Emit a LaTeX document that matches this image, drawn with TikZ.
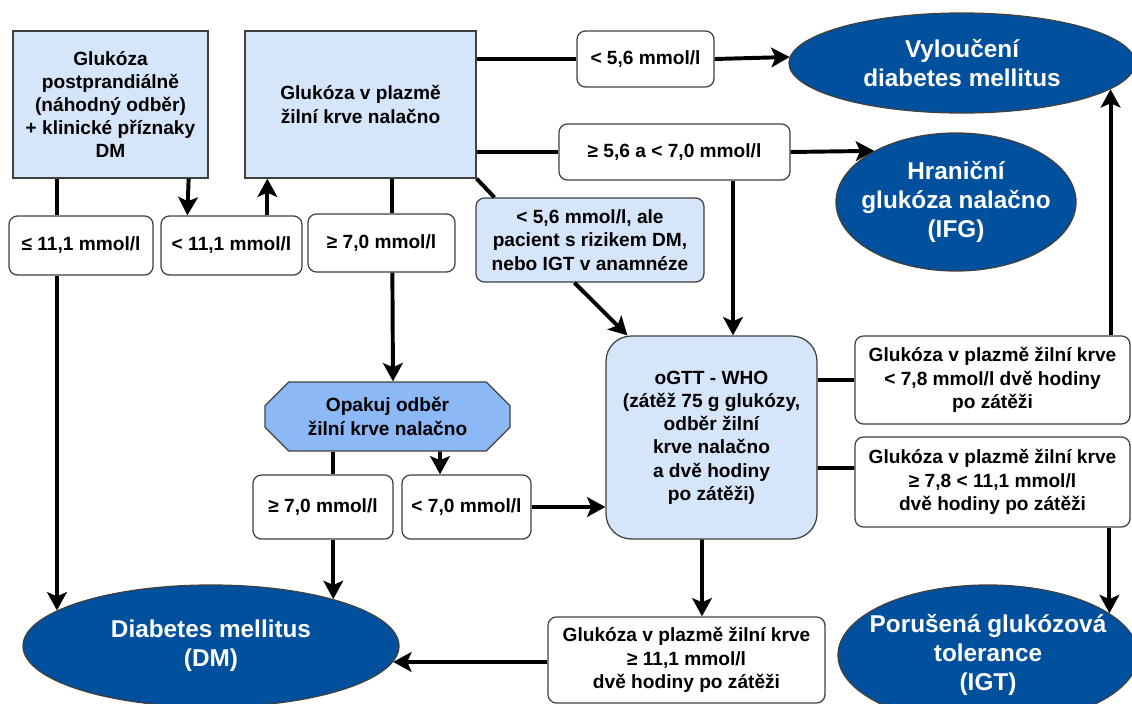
\documentclass[tikz,border=0pt]{standalone}
\usepackage{fontspec}
\setmainfont{Liberation Sans}
\usetikzlibrary{arrows.meta,shapes.geometric,shapes.misc,calc}

\definecolor{paleblue}{RGB}{214,230,250}
\definecolor{midblue}{RGB}{140,184,245}
\definecolor{darkblue}{RGB}{0,80,158}
\definecolor{edgegray}{RGB}{64,64,64}

\tikzset{
  wh/.style 2 args={minimum width=#1*0.025cm, minimum height=#2*0.025cm},
  txt/.style={font=\fontsize{13.6}{16.5}\selectfont\bfseries, align=center, inner sep=0pt, draw=edgegray, line width=0.9pt},
  inbox/.style={txt, rectangle, fill=paleblue},
  cond/.style={txt, rectangle, rounded corners=6pt, fill=white},
  oval/.style={ellipse, fill=darkblue, draw=edgegray, line width=0.9pt, text=white, inner xsep=-0.75cm, inner ysep=0pt, font=\fontsize{17.3}{20.5}\selectfont\bfseries, align=center},
  ln/.style={line width=2.8pt},
  arr/.style={ln, -{Stealth[length=13pt,width=14pt,inset=3pt]}},
}

\begin{document}
\begin{tikzpicture}[x=0.025cm, y=-0.025cm]

    \useasboundingbox (0,0) rectangle (1132,704);
    \clip (0,0) rectangle (1132,704);

    % nodes
    \node[inbox, wh={195}{147}] (postp) at (110.5,104.5) {Glukóza\\postprandiálně\\(náhodný odběr)\\+ klinické příznaky\\DM};
    \node[inbox, wh={231}{147}] (fast) at (360.5,104.5) {Glukóza v plazmě\\žilní krve nalačno};
    \node[cond, wh={144}{59}] (le111) at (81,245.5) {≤ 11,1 mmol/l};
    \node[cond, wh={141}{59}] (lt111) at (231.5,245.5) {< 11,1 mmol/l};
    \node[cond, wh={147}{58}] (ge70) at (381.5,243) {≥ 7,0 mmol/l};
    \node[cond, wh={137}{56}] (lt56) at (645.5,59) {< 5,6 mmol/l};
    \node[cond, wh={231}{56}] (mid) at (674.5,152) {≥ 5,6 a < 7,0 mmol/l};
    \node[inbox, rounded corners=6pt, wh={228}{84}] (risk) at (590,240) {< 5,6 mmol/l, ale\\pacient s rizikem DM,\\nebo IGT v anamnéze};
    \node[oval, wh={346}{100}] (excl) at (962,63) {Vyloučení\\diabetes mellitus};
    \node[oval, wh={240}{138}] (ifg) at (956,202) {Hraniční\\glukóza nalačno\\(IFG)};
    \node[inbox, rounded corners=18pt, wh={211}{203}] (ogtt) at (711.5,437.5) {oGTT - WHO\\(zátěž 75 g glukózy,\\odběr žilní\\krve nalačno\\a dvě hodiny\\po zátěži)};
    \node[cond, wh={275}{88}] (lt78) at (992.5,380) {Glukóza v plazmě žilní krve\\< 7,8 mmol/l dvě hodiny\\po zátěži};
    \node[cond, wh={275}{90}] (ge78) at (992.5,482) {Glukóza v plazmě žilní krve\\≥ 7,8 < 11,1 mmol/l\\dvě hodiny po zátěži};
    \node[txt, chamfered rectangle, chamfered rectangle xsep=0.5cm, fill=midblue, wh={245}{69}] (rep) at (387.5,416.5) {Opakuj odběr\\žilní krve nalačno};
    \node[cond, wh={140}{64}] (rge70) at (323,507) {≥ 7,0 mmol/l};
    \node[cond, wh={129}{64}] (rlt70) at (466.5,507) {< 7,0 mmol/l};
    \node[cond, wh={277}{86}] (ge111) at (686.5,660) {Glukóza v plazmě žilní krve\\≥ 11,1 mmol/l\\dvě hodiny po zátěži};
    \node[oval, wh={376}{122}] (dm) at (211,646) {Diabetes mellitus\\(DM)};
    \node[oval, wh={300}{140}] (igt) at (988,655) {Porušená glukózová\\tolerance\\(IGT)};

    % paths
    \draw[ln] (dm.167.2 |- postp.south) -- (dm.167.2 |- le111.north); % postprandial -> <= 11,1
    \draw[arr] (dm.167.2 |- le111.south) -- (dm.167.2); % <= 11,1 -> DM
    \draw[arr] ($(postp.south east)+(-20,0)$) -- ($(lt111.north west)+(27,0)$); % postprandial -> < 11,1
    \draw[arr] ($(lt111.north west)+(107,0)$) -- ($(fast.south west)+(23,0)$); % < 11,1 -> fasting
    \draw[ln] ($(fast.south west)+(148,0)$) -- ($(ge70.north west)+(85,0)$); % fasting -> >= 7,0
    \draw[arr] ($(ge70.south west)+(85,0)$) -- ($(rep.north)+(5.5,0)$); % >= 7,0 -> repeat
    \draw[ln] (dm.21.4 |- rep.south) -- (dm.21.4 |- rge70.north); % repeat -> >= 7,0
    \draw[arr] (dm.21.4 |- rge70.south) -- (dm.21.4); % >= 7,0 -> DM
    \draw[arr] ($(rep.south)+(52.5,0)$) -- ($(rlt70.north)+(-26.5,0)$); % repeat -> < 7,0
    \draw[arr] (rlt70.east) -- (ogtt.west |- rlt70.east); % < 7,0 -> oGTT

    \draw[ln] (fast.east |- lt56.west) -- (lt56.west); % fasting -> < 5,6
    \draw[arr] (lt56.east) -- (excl.178.7); % < 5,6 -> exclusion
    \draw[ln] (fast.east |- mid.west) -- (mid.west); % fasting -> 5,6 to 7,0
    \draw[arr] (mid.east) -- (ifg.148.8); % 5,6 to 7,0 -> IFG
    \draw[arr] ($(mid.south)+(58.5,0)$) -- ($(ogtt.north)+(21.5,0)$); % 5,6 to 7,0 -> oGTT
    \draw[ln] (fast.south east) -- ($(risk.north west)+(19,0)$); % fasting -> risk
    \draw[arr] ($(risk.south west)+(99,0)$) -- ($(ogtt.north west)+(22,0)$); % risk -> oGTT

    \draw[ln] (ogtt.east |- lt78.west) -- (lt78.west); % oGTT -> < 7,8
    \draw[ln] ($(ogtt.east)+(0,30.5)$) -- ($(ge78.west)+(0,-14)$); % oGTT -> 7,8 to 11,1
    \draw[arr] (excl.-10.7 |- lt78.north) -- (excl.-10.7); % < 7,8 -> exclusion
    \draw[arr] (igt.19.7 |- ge78.south) -- (igt.19.7); % 7,8 to 11,1 -> IGT
    \draw[arr] ($(ogtt.south)+(-9.5,0)$) -- ($(ge111.north)+(15.5,0)$); % oGTT -> >= 11,1
    \draw[arr] (ge111.west |- dm.-5) -- (dm.-5); % >= 11,1 -> DM

\end{tikzpicture}
\end{document}
